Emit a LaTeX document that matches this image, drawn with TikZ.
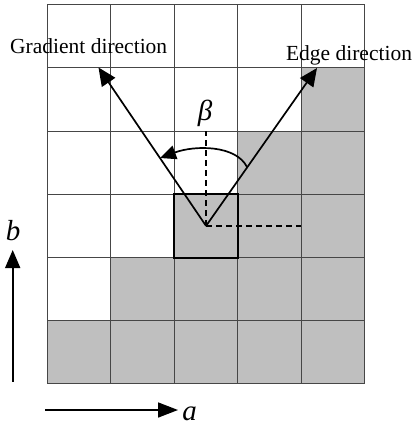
\documentclass[tikz,border=0pt]{standalone}
\usepackage{fontspec}
\setmainfont{Liberation Serif}
\usetikzlibrary{arrows.meta}
\definecolor{cellgray}{RGB}{191,191,191}
\definecolor{gridc}{RGB}{70,70,70}
\begin{document}
\begin{tikzpicture}[x=1pt,y=-1pt,
  gridline/.style={draw=gridc, line width=0.9pt},
  vec/.style={line width=1.7pt, -{Triangle[length=18pt,width=16pt]}},
  guide/.style={line width=1.3pt, dash pattern=on 6pt off 4pt},
  lbl/.style={font=\fontsize{21.5}{24}\selectfont, inner sep=0pt, anchor=base},
  sym/.style={font=\fontsize{29}{32}\selectfont\itshape, inner sep=0pt, anchor=base},
]
\useasboundingbox (0,0) rectangle (417,428);
% gray cells
\foreach \c/\r in {4/1, 3/2,4/2, 2/3,3/3,4/3, 1/4,2/4,3/4,4/4, 0/5,1/5,2/5,3/5,4/5}
  \fill[cellgray] (47.3+\c*63.5, 4.7+\r*63.2) rectangle ++(63.5,63.2);
% grid
\foreach \i in {0,...,5} \draw[gridline] (47.3+\i*63.5,4.7) -- (47.3+\i*63.5,383.9);
\foreach \j in {0,...,6} \draw[gridline] (47.3,4.7+\j*63.2) -- (364.8,4.7+\j*63.2);
% highlighted cell
\draw[line width=2pt] (174.3,194.3) rectangle (237.8,257.5);
% points
\coordinate (O) at (206.05,225.9);
\coordinate (G) at (98.5,67.5);
\coordinate (E) at (317,68);
\coordinate (V) at (206.05,131);
\coordinate (H) at (301.3,225.9);
\coordinate (B1) at (247,167);
\coordinate (B2) at (160,158);
\draw[guide] (O) -- (V);
\draw[guide] (O) -- (H);
\draw[vec] (O) -- (G);
\draw[vec] (O) -- (E);
\draw[line width=1.7pt, -{Triangle[length=16pt,width=14pt]}] (B1) .. controls (236,145) and (195,145) .. (B2);
% labels
\node[lbl] (gl) at (88.7,53.3) {Gradient direction};
\node[lbl] (el) at (349,60) {Edge direction};
\node[sym] (beta) at (205,120) {β};
% axes
\coordinate (b0) at (12.7,381.7);
\coordinate (b1) at (12.7,250);
\draw[line width=1.7pt, -{Triangle[length=18pt,width=15pt]}] (b0) -- (b1);
\node[sym] (bl) at (13,240) {b};
\coordinate (a0) at (45,410);
\coordinate (a1) at (178,410);
\draw[line width=1.7pt, -{Triangle[length=20pt,width=15pt]}] (a0) -- (a1);
\node[sym] (al) at (189.5,420) {a};
\end{tikzpicture}
\end{document}
